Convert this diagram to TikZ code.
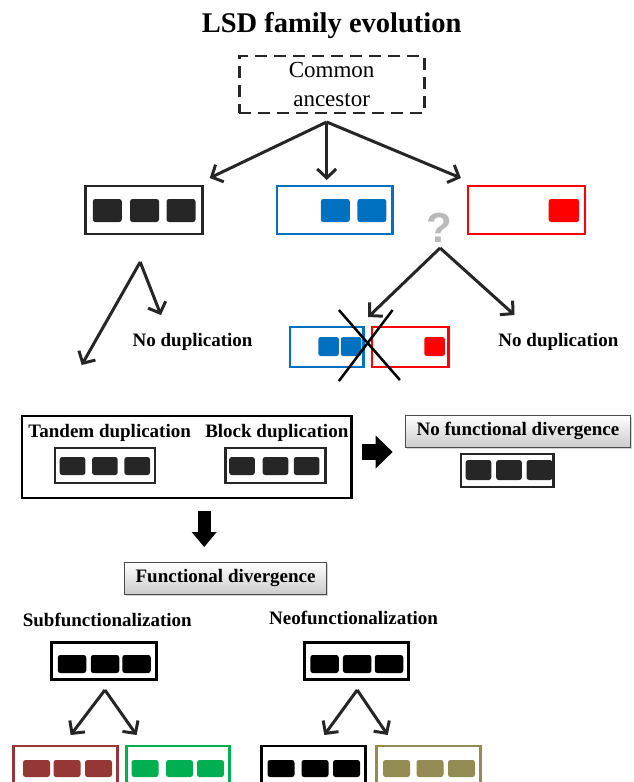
\documentclass[tikz,border=0pt]{standalone}
\usepackage{fontspec}
\setmainfont{Liberation Serif}
\newfontfamily\qfont{Liberation Sans}
\usetikzlibrary{arrows.meta,shadows}
\definecolor{darkblock}{RGB}{38,38,38}
\definecolor{lsdblue}{RGB}{0,112,192}
\definecolor{lsdred}{RGB}{255,0,0}
\definecolor{lsdbrown}{RGB}{149,55,53}
\definecolor{lsdgreen}{RGB}{0,176,80}
\definecolor{lsdolive}{RGB}{148,138,84}

\begin{document}
\begin{tikzpicture}[x=1pt,y=-1pt]
\tikzstyle{gene} = [draw=darkblock, line width=2.5pt, fill=white, inner sep=0pt]
\tikzstyle{exon} = [fill=darkblock, rounded corners=2.5pt, inner sep=0pt, minimum width=29pt, minimum height=23pt]
\tikzstyle{tag} = [font=\fontsize{19}{22}\selectfont\bfseries, inner sep=0pt]
\tikzstyle{panel} = [draw=gray!60!black, line width=0.8pt, top color=white, bottom color=gray!40, drop shadow={opacity=0.35, shadow xshift=1.5pt, shadow yshift=-1.5pt}, inner sep=0pt, font=\fontsize{19}{22}\selectfont\bfseries]
\tikzstyle{fork} = [line width=3pt, draw=darkblock, -{Straight Barb[length=9pt,width=19pt]}]
\tikzstyle{fat} = [draw=black, -{Triangle[length=17pt,width=33pt,line width=0pt]}]
\clip (0,0) rectangle (634,782);

\node [font=\fontsize{28.5}{32}\selectfont\bfseries, inner sep=0pt] (title) at (331.6,26) {LSD family evolution};
\node [draw=darkblock, dashed, dash pattern=on 12pt off 7pt, line width=2.8pt, minimum width=185pt, minimum height=57pt, align=center, font=\fontsize{23}{29}\selectfont, inner sep=0pt] (anc) at (331.6,84.5) {Common\\ancestor};

\node [gene, minimum width=117pt, minimum height=48pt] (g1) at (143.9,210) {};
\node [exon] (g1a) at (107.3,210.5) {};
\node [exon] (g1b) at (144.5,210.5) {};
\node [exon] (g1c) at (181,210.5) {};
\node [gene, draw=lsdblue, minimum width=115.8pt, minimum height=48pt] (g2) at (334.7,210) {};
\node [exon, fill=lsdblue] (g2a) at (335.3,210.5) {};
\node [exon, fill=lsdblue] (g2b) at (371.9,210.5) {};
\node [gene, draw=lsdred, minimum width=117pt, minimum height=48pt] (g3) at (526.7,210) {};
\node [exon, fill=lsdred, minimum width=30.5pt] (g3a) at (563.9,210.5) {};

\coordinate (ancfork) at (326.7,122);
\coordinate (ancL) at (209.7,178);
\coordinate (ancM) at (326.7,180);
\coordinate (ancR) at (460.9,178);
\draw [fork] (ancfork) -- (ancL);
\draw [fork] (ancfork) -- (ancM);
\draw [fork] (ancfork) -- (ancR);

\node [text=gray!55, font=\qfont\fontsize{42}{44}\selectfont\bfseries, inner sep=0pt] (query) at (438.9,228) {?};

\coordinate (g1fork) at (140.2,262);
\coordinate (g1L) at (81.7,365);
\coordinate (g1R) at (160.9,315);
\draw [fork] (g1fork) -- (g1L);
\draw [fork] (g1fork) -- (g1R);
\node [tag] (nodupL) at (192.6,342) {No duplication};

\coordinate (qfork) at (440.1,248);
\coordinate (qL) at (368.2,317);
\coordinate (qR) at (514.5,315);
\draw [fork] (qfork) -- (qL);
\draw [fork] (qfork) -- (qR);
\node [tag] (nodupR) at (558.4,342) {No duplication};

\node [gene, draw=lsdblue, minimum width=73.2pt, minimum height=40pt] (s1) at (326.7,347) {};
\node [exon, fill=lsdblue, minimum width=20.7pt, minimum height=19pt] (s1a) at (328.6,346.5) {};
\node [exon, fill=lsdblue, minimum width=20.7pt, minimum height=19pt] (s1b) at (351.1,346.5) {};
\node [gene, draw=lsdred, minimum width=76.8pt, minimum height=40pt] (s2) at (410.3,347) {};
\node [exon, fill=lsdred, minimum width=20.7pt, minimum height=19pt] (s2a) at (434.6,346.5) {};
\coordinate (xa) at (338.9,310);
\coordinate (xb) at (399.9,380);
\coordinate (xc) at (392.6,310);
\coordinate (xd) at (338.9,381);
\draw [line width=2.5pt] (xa) -- (xb);
\draw [line width=2.5pt] (xc) -- (xd);

\node [draw=black, line width=2.8pt, minimum width=329.2pt, minimum height=82pt, inner sep=0pt] (dup) at (186.5,457) {};
\node [tag] (tandem) at (109.7,433) {Tandem duplication};
\node [tag] (block) at (276.8,433) {Block duplication};
\node [gene, minimum width=100pt, minimum height=35pt] (td) at (104.9,465.5) {};
\node [exon, minimum width=25.6pt, minimum height=18pt] (tda) at (72.5,466) {};
\node [exon, minimum width=25.6pt, minimum height=18pt] (tdb) at (104.9,466) {};
\node [exon, minimum width=25.6pt, minimum height=18pt] (tdc) at (137.2,466) {};
\node [gene, minimum width=100pt, minimum height=35pt] (bd) at (275.5,465.5) {};
\node [exon, minimum width=25.6pt, minimum height=18pt] (bda) at (242,466) {};
\node [exon, minimum width=25.6pt, minimum height=18pt] (bdb) at (275.5,466) {};
\node [exon, minimum width=25.6pt, minimum height=18pt] (bdc) at (306.6,466) {};

\coordinate (fatA) at (362,452);
\coordinate (fatB) at (392.6,452);
\draw [fat, line width=16pt] (fatA) -- (fatB);

\node [panel, minimum width=225.6pt, minimum height=32pt] (nfd) at (518,431) {No functional divergence};
\node [gene, minimum width=92.7pt, minimum height=33pt] (nf) at (507.2,470.5) {};
\node [exon, minimum width=25.6pt, minimum height=20pt] (nfa) at (478.5,470) {};
\node [exon, minimum width=25.6pt, minimum height=20pt] (nfb) at (509,470) {};
\node [exon, minimum width=25.6pt, minimum height=20pt] (nfc) at (539.5,470) {};

\coordinate (fatC) at (204.2,511);
\coordinate (fatD) at (204.2,547);
\draw [fat, line width=13pt, -{Triangle[length=15pt,width=25pt,line width=0pt]}] (fatC) -- (fatD);

\node [panel, minimum width=202.4pt, minimum height=32pt] (fd) at (225.6,578) {Functional divergence};
\node [tag] (sub) at (107.3,620) {Subfunctionalization};
\node [tag] (neo) at (353.6,618) {Neofunctionalization};

\node [gene, draw=black, line width=3pt, minimum width=104.9pt, minimum height=37pt] (sb) at (103.6,660.5) {};
\node [exon, fill=black, minimum width=28.5pt, minimum height=18pt] (sba) at (72,664) {};
\node [exon, fill=black, minimum width=28.5pt, minimum height=18pt] (sbb) at (105,664) {};
\node [exon, fill=black, minimum width=28.5pt, minimum height=18pt] (sbc) at (136.5,664) {};
\node [gene, draw=black, line width=3pt, minimum width=103.6pt, minimum height=37pt] (nb) at (356.6,660.5) {};
\node [exon, fill=black, minimum width=28.5pt, minimum height=18pt] (nba) at (324.5,664) {};
\node [exon, fill=black, minimum width=28.5pt, minimum height=18pt] (nbb) at (357.2,664) {};
\node [exon, fill=black, minimum width=28.5pt, minimum height=18pt] (nbc) at (389,664) {};

\coordinate (sbfork) at (104.9,690);
\coordinate (sbL) at (70.7,735);
\coordinate (sbR) at (136.6,735);
\draw [fork] (sbfork) -- (sbL);
\draw [fork] (sbfork) -- (sbR);
\coordinate (nbfork) at (357.2,690);
\coordinate (nbL) at (324.3,735);
\coordinate (nbR) at (387.7,735);
\draw [fork] (nbfork) -- (nbL);
\draw [fork] (nbfork) -- (nbR);

\node [gene, draw=lsdbrown, line width=2.8pt, minimum width=103.6pt, minimum height=38pt] (br) at (65.5,765) {};
\node [exon, fill=lsdbrown, minimum width=27pt, minimum height=17pt] (bra) at (36.5,768.5) {};
\node [exon, fill=lsdbrown, minimum width=27pt, minimum height=17pt] (brb) at (67,768.5) {};
\node [exon, fill=lsdbrown, minimum width=27pt, minimum height=17pt] (brc) at (98.5,768.5) {};
\node [gene, draw=lsdgreen, line width=2.8pt, minimum width=103.6pt, minimum height=38pt] (gr) at (178,765) {};
\node [exon, fill=lsdgreen, minimum width=27pt, minimum height=17pt] (gra) at (145,768.5) {};
\node [exon, fill=lsdgreen, minimum width=27pt, minimum height=17pt] (grb) at (179.5,768.5) {};
\node [exon, fill=lsdgreen, minimum width=27pt, minimum height=17pt] (grc) at (210.5,768.5) {};
\node [gene, draw=black, line width=2.8pt, minimum width=103.6pt, minimum height=38pt] (bk) at (313.5,765) {};
\node [exon, fill=black, minimum width=27pt, minimum height=17pt] (bka) at (281,768.5) {};
\node [exon, fill=black, minimum width=27pt, minimum height=17pt] (bkb) at (315,768.5) {};
\node [exon, fill=black, minimum width=27pt, minimum height=17pt] (bkc) at (346.5,768.5) {};
\node [gene, draw=lsdolive, line width=2.8pt, minimum width=103.6pt, minimum height=38pt] (ol) at (428.5,765) {};
\node [exon, fill=lsdolive, minimum width=27pt, minimum height=17pt] (ola) at (396.5,768.5) {};
\node [exon, fill=lsdolive, minimum width=27pt, minimum height=17pt] (olb) at (430,768.5) {};
\node [exon, fill=lsdolive, minimum width=27pt, minimum height=17pt] (olc) at (461.5,768.5) {};

\end{tikzpicture}
\end{document}
